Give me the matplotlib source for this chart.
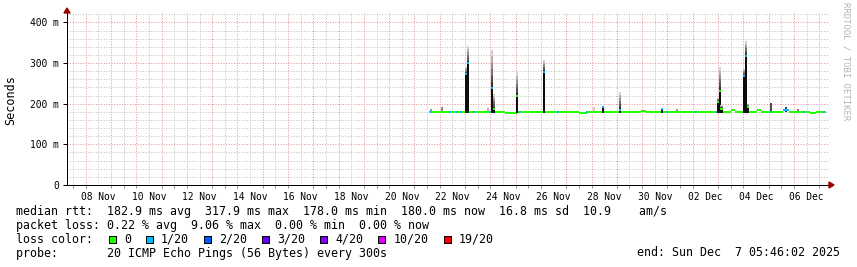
import matplotlib
matplotlib.use("Agg")
import matplotlib.pyplot as plt
from matplotlib.patches import Rectangle, Polygon
import numpy as np

W, H = 857, 267
MONO = "DejaVu Sans Mono"

# time axis in days counted from 1 Nov 2025 00:00 (Dec d -> 30 + d)
x_start, x_end = 7.261, 37.35
y_max = 424.0

xtick_days = [8.5, 10.5, 12.5, 14.5, 16.5, 18.5, 20.5, 22.5, 24.5, 26.5, 28.5,
              30.5, 32.5, 34.5, 36.5]
xtick_labels = ["08 Nov", "10 Nov", "12 Nov", "14 Nov", "16 Nov", "18 Nov", "20 Nov",
                "22 Nov", "24 Nov", "26 Nov", "28 Nov", "30 Nov", "02 Dec", "04 Dec",
                "06 Dec"]
ytick_values = [0, 100, 200, 300, 400]
ytick_labels = ["0", "100 m", "200 m", "300 m", "400 m"]

# median rtt baseline (ms): piecewise level
base_start = [21.57, 24.58, 25.04, 27.51, 27.81, 29.96, 30.16, 33.52, 33.68, 34.55,
              34.71, 35.58, 35.82, 36.64, 36.88]
base_end = [24.58, 25.04, 27.51, 27.81, 29.96, 30.16, 33.52, 33.68, 34.55, 34.71,
            35.58, 35.82, 36.64, 36.88, 37.27]
base_rtt = [180.2, 177.5, 180.2, 177.8, 180.2, 181.8, 180.2, 183.4, 180.2, 183.4,
            180.2, 184.0, 180.2, 177.2, 180.2]

# baseline samples that lost 1 of 20 pings
loss1_start = [21.60, 22.37, 22.66, 22.80, 23.32, 23.96, 25.14, 25.83, 26.63, 27.80,
               29.10, 30.75, 30.94, 32.10, 32.92, 35.07, 35.58, 36.37, 37.16]
loss1_end = [21.67, 22.44, 22.74, 22.88, 23.39, 24.03, 25.23, 25.90, 26.70, 27.88,
             29.17, 30.82, 31.01, 32.17, 32.99, 35.14, 35.82, 36.44, 37.23]
loss1_rtt = [180.2, 180.2, 180.2, 180.2, 180.2, 180.2, 180.2, 180.2, 180.2, 179.0,
             183.5, 180.2, 180.2, 180.2, 180.2, 180.2, 184.0, 180.2, 180.2]

# spikes: time, median rtt, top of the smoke (ms), loss class index
spike_day = [23.05, 23.12, 24.05, 24.14, 25.05, 26.11, 28.47, 29.13, 30.78,
             33.00, 33.07, 33.14, 34.04, 34.12, 34.20]
spike_rtt = [273, 299, 238, 186, 220, 278, 192, 184, 188,
             205, 231, 188, 269, 318, 193]
spike_top = [290, 342, 332, 225, 279, 307, 194, 229, 190,
             215, 291, 197, 285, 354, 200]
spike_loss = [1, 1, 1, 0, 0, 1, 1, 1, 1,
              0, 0, 0, 1, 1, 0]

# thin smoke wisps above the baseline: time, top (ms), grey level
wisp_day = [21.65, 22.10, 23.92, 28.09, 31.37, 35.10, 35.68, 36.18]
wisp_top = [187, 192, 190, 191, 186, 203, 192, 188]
wisp_grey = [0.6, 0.55, 0.7, 0.8, 0.6, 0.3, 0.25, 0.5]

loss_labels = ["0", "1/20", "2/20", "3/20", "4/20", "10/20", "19/20"]
loss_colors = ["#26ff00", "#00b8ff", "#0059ff", "#5e00ff", "#7e00ff", "#dd00ff", "#ff0000"]

rtt_line = "median rtt:  182.9 ms avg  317.9 ms max  178.0 ms min  180.0 ms now  16.8 ms sd  10.9    am/s"
loss_line = "packet loss: 0.22 % avg  9.06 % max  0.00 % min  0.00 % now"
probe_line = "probe:       20 ICMP Echo Pings (56 Bytes) every 300s"
end_line = "end: Sun Dec  7 05:46:02 2025"


def fx(x):
    return x / W


def fy(y):
    return 1 - y / H


fig = plt.figure(figsize=(W / 100, H / 100), dpi=100)
fig.patch.set_facecolor("white")
ax = fig.add_axes([fx(67), fy(185), (828 - 67) / W, (185 - 12.7) / H])
ax.set_xlim(x_start, x_end)
ax.set_ylim(0, y_max)

px = 72 / 100  # one pixel in points
dots = (0, (1, 1.6))
red_grid, grey_grid = "#e39494", "#c0c0c0"

# grid: red every 100 ms / every midnight, grey every 20 ms / every noon
half_days = np.arange(7.5, x_end, 0.5)
for y in np.arange(20, y_max, 20):
    major = y % 100 == 0
    ax.axhline(y, color=red_grid if major else grey_grid, lw=px, ls=dots, zorder=0)
for d in half_days:
    major = d % 1 == 0
    ax.axvline(d, color=red_grid if major else grey_grid, lw=px, ls=dots, zorder=0)

col_w = 0.085

# wisps of smoke
for d, top, g in zip(wisp_day, wisp_top, wisp_grey):
    ax.bar(d, top - 180, bottom=180, width=col_w, color=str(g), lw=0, zorder=2)

# baseline median line
ax.hlines(base_rtt, base_start, base_end, colors=loss_colors[0], lw=2 * px, zorder=3)
ax.hlines(loss1_rtt, loss1_start, loss1_end, colors=loss_colors[1], lw=2 * px, zorder=3)

# spikes: dark core under the median, fading smoke above it
shades = np.linspace(0.2, 0.82, 6)
for d, med, top, li in zip(spike_day, spike_rtt, spike_top, spike_loss):
    ax.bar(d, med - 178, bottom=178, width=col_w, color="#0d0d0d", lw=0, zorder=4)
    edges = np.linspace(med, top, len(shades) + 1)
    for k, g in enumerate(shades):
        ax.bar(d, edges[k + 1] - edges[k], bottom=edges[k], width=col_w,
               color=str(g), lw=0, zorder=4)
    ax.hlines(med, d - col_w / 2, d + col_w / 2, colors=loss_colors[li], lw=2 * px, zorder=5)

# axes
for side in ("top", "right"):
    ax.spines[side].set_visible(False)
for side in ("left", "bottom"):
    ax.spines[side].set_linewidth(px)
    ax.spines[side].set_color("black")
ax.set_yticks(ytick_values, ytick_labels)
ax.set_xticks(xtick_days, xtick_labels)
ax.set_xticks(half_days, minor=True)
ax.tick_params(axis="y", length=3, width=px, pad=3, labelsize=6.9)
ax.tick_params(axis="x", which="major", length=0, pad=5, labelsize=6.9)
ax.tick_params(axis="x", which="minor", length=2, width=px, color="#909090")
for lab in ax.get_xticklabels() + ax.get_yticklabels():
    lab.set_family(MONO)
ax.set_facecolor("white")

fig.add_artist(Polygon([(fx(67), fy(8)), (fx(64), fy(13)), (fx(70), fy(13))],
                       closed=True, color="#990000", transform=fig.transFigure))
fig.add_artist(Polygon([(fx(834), fy(185)), (fx(829), fy(182)), (fx(829), fy(188))],
                       closed=True, color="#990000", transform=fig.transFigure))

fig.text(fx(10.8), fy(100), "Seconds", rotation=90, ha="center", va="center",
         family=MONO, fontsize=8.5)
fig.text(fx(846), fy(61), "RRDTOOL / TOBI OETIKER", rotation=270, ha="center",
         va="center", family=MONO, fontsize=6.4, color="#b4b4b4")

# legend block
fs = 8.4
char = fs / 72 * 100 * 0.602
fig.text(fx(16), fy(215), rtt_line, family=MONO, fontsize=fs, va="baseline")
fig.text(fx(16), fy(229), loss_line, family=MONO, fontsize=fs, va="baseline")
fig.text(fx(16), fy(243), "loss color:", family=MONO, fontsize=fs, va="baseline")
fig.text(fx(16), fy(256.5), probe_line, family=MONO, fontsize=fs, va="baseline")
fig.text(fx(840), fy(256.5), end_line, family=MONO, fontsize=fs, va="baseline", ha="right")

pos = 109
for lab, col in zip(loss_labels, loss_colors):
    fig.add_artist(Rectangle((fx(pos), fy(242.5)), 7 / W, 7 / H, facecolor=col,
                             edgecolor="black", lw=px, transform=fig.transFigure))
    fig.text(fx(pos + 15), fy(243), lab, family=MONO, fontsize=fs, va="baseline")
    pos += 15 + len(lab) * char + 15

fig.savefig("out.png", dpi=100)
